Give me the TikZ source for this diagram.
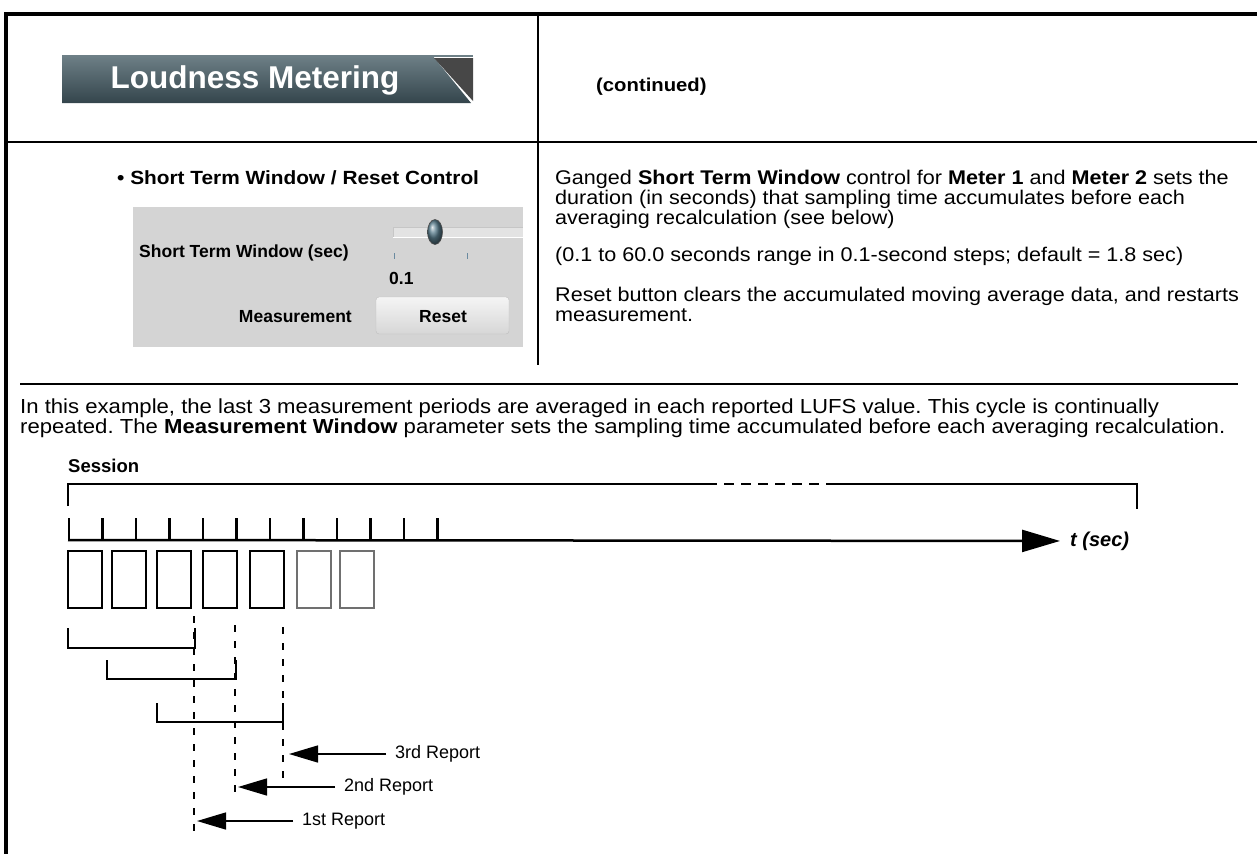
\documentclass[tikz,border=0pt]{standalone}
\usepackage{fontspec}
\setmainfont{Liberation Sans}
\newfontfamily\bodyfont{Liberation Sans}[FakeStretch=1.09]
\usetikzlibrary{arrows.meta}
\frenchspacing
\definecolor{bantop}{HTML}{6E8087}
\definecolor{banbot}{HTML}{34454C}
\definecolor{bandark}{HTML}{474747}
\definecolor{panelgray}{HTML}{D4D4D4}
\definecolor{knob}{HTML}{5A7E8E}
\definecolor{tickblue}{HTML}{6A8AA0}
\definecolor{boxgray}{HTML}{707070}

\begin{document}
\begin{tikzpicture}[x=1pt,y=-1pt,
  txt/.style={anchor=base west, inner sep=0pt, font=\bodyfont\fontsize{19.8}{19.8}\selectfont},
  btxt/.style={txt, font=\bodyfont\fontsize{19.1}{19.1}\selectfont\bfseries},
  ptxt/.style={anchor=base west, inner sep=0pt, font=\fontsize{17.5}{17.5}\selectfont\bfseries},
  tl/.style={line width=2.5pt},
  guide/.style={line width=1.5pt, dash pattern=on 7pt off 9pt},
  replab/.style={anchor=west, inner xsep=9pt, inner ysep=0pt, font=\fontsize{18}{18}\selectfont},
  rep/.style={line width=1.5pt, -{Triangle[length=29pt,width=17pt]}}]
  \useasboundingbox (0,0) rectangle (1257,854);

  % frame
  \draw[line width=4pt] (6,14) -- (1257,14);
  \draw[line width=4pt] (6,12) -- (6,854);
  \draw[line width=1.2pt] (6,142) -- (1257,142);
  \draw[line width=1.2pt] (538,14) -- (538,365);
  \draw[line width=2.5pt] (20,384) -- (1238,384);

  % title banner
  \shade[top color=bantop, bottom color=banbot] (62,55) -- (432,55) -- (471,103) -- (62,103) -- cycle;
  \fill[bandark] (434,58) -- (473,58) -- (473,101) -- cycle;
  \draw[bantop, line width=1.5pt] (432,56) -- (473,56);
  \node[anchor=base, inner sep=0pt, text=white, font=\fontsize{31.5}{31.5}\selectfont\bfseries] (title) at (255,88) {Loudness Metering};
  \node[btxt, font=\bodyfont\fontsize{18.6}{18.6}\selectfont\bfseries] (cont) at (596,91) {(continued)};

  % control screenshot
  \node[btxt] (ctrl) at (117,184) {\textbullet\ Short Term Window / Reset Control};
  \fill[panelgray] (133,207) rectangle (523,347);
  \fill[gray!22] (393,227) rectangle (523,237);
  \draw[gray!45, line width=0.6pt] (393,237) -- (393,227) -- (523,227);
  \draw[white, line width=1.2pt] (393,237.5) -- (523,237.5);
  \shade[ball color=knob] (435,232) ellipse (7.5 and 12.5);
  \draw[black!70, line width=0.6pt] (435,232) ellipse (7.5 and 12.5);
  \draw[tickblue, line width=1pt] (394,253) -- ++(0,6);
  \draw[tickblue, line width=1pt] (467,253) -- ++(0,6);
  \node[ptxt] (stw) at (139,257) {Short Term Window (sec)};
  \node[ptxt] (val) at (389,284) {0.1};
  \node[ptxt, anchor=base east] (meas) at (352,322) {Measurement};
  \shade[top color=gray!8, bottom color=gray!32, draw=gray!50, rounded corners=3pt] (376,297) rectangle (509,334);
  \node[ptxt, anchor=base] (reset) at (443,322) {Reset};

  % description
  \node[txt] (d1) at (555,184) {Ganged \textbf{Short Term Window} control for \textbf{Meter 1} and \textbf{Meter 2} sets the};
  \node[txt] (d2) at (555,204) {duration (in seconds) that sampling time accumulates before each};
  \node[txt] (d3) at (555,224) {averaging recalculation (see below)};
  \node[txt] (d4) at (555,261) {(0.1 to 60.0 seconds range in 0.1-second steps; default = 1.8 sec)};
  \node[txt] (d5) at (555,301) {Reset button clears the accumulated moving average data, and restarts};
  \node[txt] (d6) at (555,321) {measurement.};

  % example text
  \node[txt, font=\bodyfont\fontsize{20.3}{20.3}\selectfont] (e1) at (20,413) {In this example, the last 3 measurement periods are averaged in each reported LUFS value. This cycle is continually};
  \node[txt, font=\bodyfont\fontsize{20.3}{20.3}\selectfont] (e2) at (20,433) {repeated. The \textbf{Measurement Window} parameter sets the sampling time accumulated before each averaging recalculation.};

  % session bracket
  \node[ptxt, font=\fontsize{18.5}{18.5}\selectfont\bfseries] (sess) at (68,472) {Session};
  \draw[tl] (68,506) -- (68,484) -- (707,484);
  \draw[tl, dash pattern=on 10pt off 7pt] (707,484) -- (830,484);
  \draw[tl] (830,484) -- (1137,484) -- (1137,509);

  % time axis
  \coordinate (t0) at (68,540);
  \node[anchor=west, inner xsep=10pt, inner ysep=0pt, font=\fontsize{20}{20}\selectfont\bfseries\itshape] (tsec) at (1060,541) {t (sec)};
  \draw[tl, -{Triangle[length=38pt,width=22pt]}] (t0) -- (tsec);
  \foreach \i in {0,...,11}
    \draw[tl] ({69+33.5*\i},518) -- ++(0,22);

  % measurement periods
  \foreach \x in {68,112,157,203,250}
    \draw[tl] (\x,551) rectangle ++(34,57);
  \foreach \x in {297,340}
    \draw[tl, boxgray] (\x,551) rectangle ++(34,57);

  % averaging brackets
  \draw[tl] (68,628) -- (68,648) -- (195,648) -- (195,628);
  \draw[tl] (107,660) -- (107,679) -- (236,679) -- (236,660);
  \draw[tl] (157,703) -- (157,722) -- (283,722) -- (283,703);

  % report markers
  \draw[guide] (194,616) -- (194,832);
  \draw[guide] (235,625) -- (235,798);
  \draw[guide] (283,627) -- (283,778);
  \coordinate (tip3) at (289,754);
  \coordinate (tip2) at (238,787);
  \coordinate (tip1) at (197,821);
  \node[replab] (rep3) at (386,754) {3rd Report};
  \node[replab] (rep2) at (335,787) {2nd Report};
  \node[replab] (rep1) at (293,821) {1st Report};
  \draw[rep] (rep3) -- (tip3);
  \draw[rep] (rep2) -- (tip2);
  \draw[rep] (rep1) -- (tip1);
\end{tikzpicture}
\end{document}
